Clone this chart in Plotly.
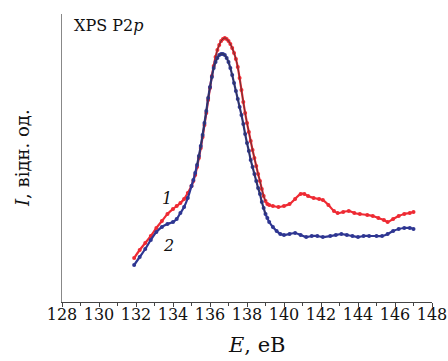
import plotly.graph_objects as go

# Curve 1 (red)
e1 = [131.9, 132.2, 132.5, 132.8, 133.1, 133.4, 133.7, 134.0, 134.2, 134.4, 134.6, 134.8,
      135.0, 135.1, 135.2, 135.3, 135.4, 135.5, 135.6, 135.7, 135.8, 135.9,
      136.0, 136.1, 136.2, 136.3, 136.4, 136.5, 136.6, 136.7, 136.8, 136.9,
      137.0, 137.1, 137.2, 137.3, 137.4, 137.5, 137.6, 137.7, 137.8, 137.9,
      138.0, 138.1, 138.2, 138.3, 138.4, 138.5, 138.6, 138.7, 138.8, 138.9,
      139.0, 139.1, 139.2, 139.4, 139.7, 140.0, 140.3, 140.6, 140.9, 141.1,
      141.3, 141.6, 141.9, 142.1, 142.4, 142.7, 142.9, 143.2, 143.5, 143.8,
      144.1, 144.5, 144.8, 145.1, 145.4, 145.6, 145.9, 146.2, 146.5, 146.8, 147.0]
i1 = [44, 52, 59, 66, 74, 81, 88, 93, 96, 99, 103, 109,
      116, 121, 127, 135, 144, 154, 165, 177, 189, 202,
      214, 226, 236, 245, 252, 257, 261, 263, 264, 263,
      261, 258, 254, 249, 243, 235, 224, 212, 200, 189,
      179, 170, 161, 152, 144, 136, 128, 121, 113, 106,
      101, 98, 97, 96, 95, 96, 98, 103, 108, 108,
      106, 104, 103, 102, 97, 91, 89, 90, 91, 89,
      88, 87, 86, 84, 82, 80, 83, 86, 88, 89, 90]

# Curve 2 (blue)
e2 = [131.9, 132.2, 132.5, 132.8, 133.1, 133.4, 133.7, 134.0, 134.2, 134.4, 134.6, 134.8,
      135.0, 135.1, 135.2, 135.3, 135.4, 135.5, 135.6, 135.7, 135.8, 135.9,
      136.0, 136.1, 136.2, 136.3, 136.4, 136.5, 136.6, 136.7, 136.8, 136.9,
      137.0, 137.1, 137.2, 137.3, 137.4, 137.5, 137.6, 137.7, 137.8, 137.9,
      138.0, 138.1, 138.2, 138.3, 138.4, 138.5, 138.6, 138.7, 138.8, 138.9,
      139.0, 139.1, 139.2, 139.4, 139.6, 139.8, 140.0, 140.3, 140.6, 140.9,
      141.2, 141.5, 141.8, 142.1, 142.5, 142.8, 143.1, 143.4, 143.7, 144.0,
      144.3, 144.6, 145.0, 145.3, 145.6, 145.9, 146.2, 146.5, 146.8, 147.0]
i2 = [37, 45, 53, 62, 70, 75, 78, 80, 83, 89, 95, 104,
      116, 122, 129, 137, 146, 156, 167, 179, 191, 204,
      215, 225, 234, 240, 244, 247, 248, 248, 247, 244,
      240, 234, 227, 219, 211, 203, 195, 187, 178, 168,
      159, 151, 142, 135, 128, 121, 114, 108, 100, 94,
      88, 84, 80, 75, 71, 68, 67, 68, 69, 67,
      65, 66, 66, 65, 66, 67, 68, 67, 66, 65,
      66, 66, 66, 66, 68, 71, 73, 74, 74, 73]

x_ticks = list(range(128, 150, 2))

RED = "#ee2a33"
BLUE = "#2e3692"
FONT = "DejaVu Serif"
TXT = "#111111"

fig = go.Figure()
for e, v, c in [(e1, i1, RED), (e2, i2, BLUE)]:
    fig.add_trace(go.Scatter(x=e, y=v, mode="lines+markers", line=dict(color=c, width=2.2, shape="spline"),
                             marker=dict(color=c, size=4), showlegend=False, hoverinfo="skip"))
    pk = [k for k, x in enumerate(e) if 135.3 <= x <= 139.0]
    fig.add_trace(go.Scatter(x=[e[k] for k in pk], y=[v[k] for k in pk], mode="lines",
                             line=dict(color="#333333", width=0.7, shape="spline"),
                             showlegend=False, hoverinfo="skip"))

fig.update_layout(
    template="none",
    width=448, height=361,
    margin=dict(l=62, r=16, t=14, b=59, autoexpand=False),
    paper_bgcolor="white", plot_bgcolor="white",
    font=dict(family=FONT, size=15, color=TXT),
    xaxis=dict(range=[128, 148], tickvals=x_ticks, ticktext=[str(t) for t in x_ticks],
               automargin=False,
               showgrid=False, zeroline=False, showline=True, linecolor="#444", linewidth=1.2,
               ticks="outside", ticklen=4, tickcolor="#444", ticklabelstandoff=-6,
               minor=dict(dtick=1, ticks="outside", ticklen=3, tickcolor="#444", showgrid=False),
               tickfont=dict(family=FONT, size=16, color=TXT)),
    yaxis=dict(range=[0, 288], showgrid=False, zeroline=False, showline=True, automargin=False,
               linecolor="#888", linewidth=1, showticklabels=False, ticks=""),
    annotations=[
        dict(text="XPS P2<i>p</i>", xref="paper", yref="paper", x=0.028, y=(302 - 26) / 288,
             xanchor="left", yanchor="middle", showarrow=False, font=dict(family=FONT, size=16, color=TXT)),
        dict(text="<i>E</i>, eB", xref="paper", yref="paper", x=0.527, y=-(345 - 302) / 288,
             xanchor="center", yanchor="middle", showarrow=False, font=dict(family=FONT, size=21, color=TXT)),
        dict(text="<i>I</i>, відн. од.", xref="paper", yref="paper", x=-(62 - 22) / 370, y=0.5,
             xanchor="center", yanchor="middle", textangle=-90, showarrow=False,
             font=dict(family=FONT, size=18, color=TXT)),
        dict(text="<i>1</i>", x=133.7, y=104, xref="x", yref="y", showarrow=False,
             font=dict(family=FONT, size=16, color=TXT)),
        dict(text="<i>2</i>", x=133.75, y=57, xref="x", yref="y", showarrow=False,
             font=dict(family=FONT, size=16, color=TXT)),
    ],
)

fig.write_html("out.html")
